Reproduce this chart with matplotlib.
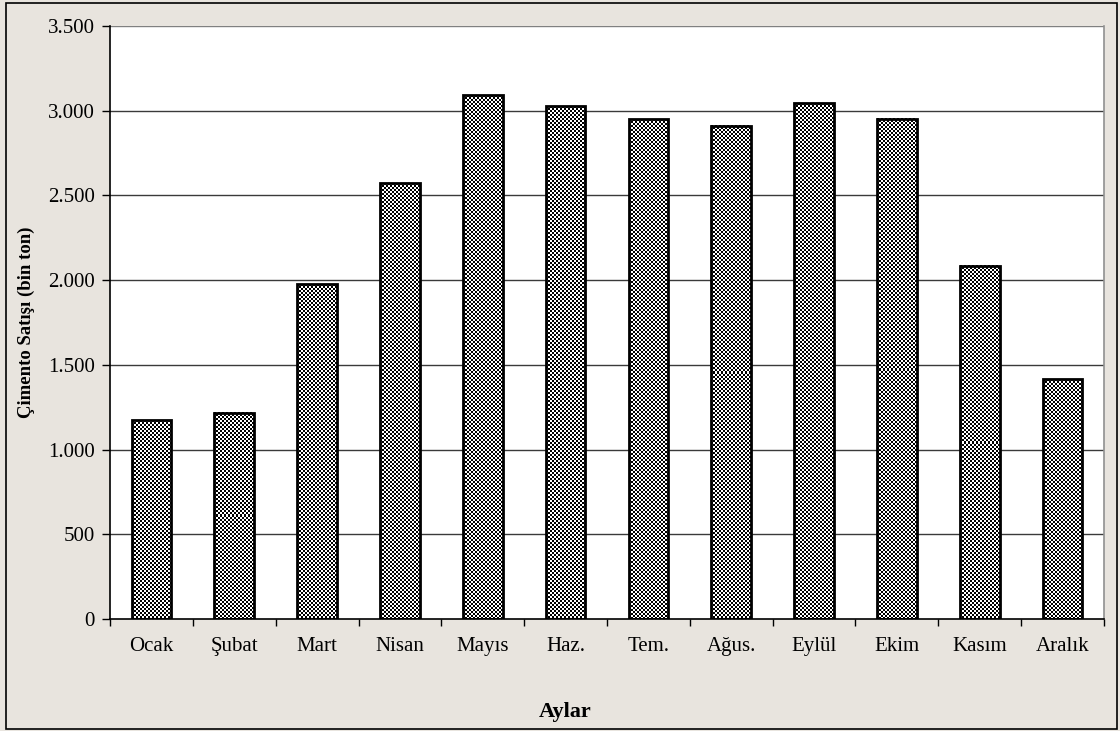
import numpy as np
import matplotlib
matplotlib.use('Agg')
import matplotlib.pyplot as plt
from matplotlib.patches import Rectangle
from matplotlib.ticker import FuncFormatter, FixedLocator

plt.rcParams['font.family'] = ['Liberation Serif', 'DejaVu Serif']

# monthly cement sales (thousand tons)
months = ['Ocak', 'Şubat', 'Mart', 'Nisan', 'Mayıs', 'Haz.', 'Tem.', 'Ağus.',
          'Eylül', 'Ekim', 'Kasım', 'Aralık']
sales = [1174, 1216, 1975, 2571, 3090, 3025, 2951, 2912, 3045, 2953, 2086, 1416]

y_ticks = [0, 500, 1000, 1500, 2000, 2500, 3000, 3500]

bg = '#E8E4DE'
fig = plt.figure(figsize=(11.2, 7.31), dpi=100, facecolor=bg)
ax = fig.add_axes([110/1120, 1 - 619/731, 994/1120, 593/731])
ax.set_facecolor('white')

x = np.arange(len(months))
bars = ax.bar(x, sales, width=0.48, facecolor='none', edgecolor='black',
              linewidth=2.0, zorder=3)

ax.set_xlim(-0.5, len(months) - 0.5)
ax.set_ylim(0, 3500)

# checkerboard fill, clipped to each bar
fig.canvas.draw()
for b in bars:
    x0, y0 = b.get_x(), b.get_y()
    w, h = b.get_width(), b.get_height()
    p0 = ax.transData.transform((x0, y0))
    p1 = ax.transData.transform((x0 + w, y0 + h))
    nx = max(int(round(p1[0] - p0[0])), 2)
    ny = max(int(round(p1[1] - p0[1])), 2)
    ii, jj = np.indices((ny, nx))
    board = ((ii // 2 + jj // 2) % 2).astype(float)
    ax.imshow(board, cmap='gray', vmin=0, vmax=1, interpolation='nearest',
              extent=(x0, x0 + w, y0, y0 + h), aspect='auto', zorder=2)
ax.set_xlim(-0.5, len(months) - 0.5)
ax.set_ylim(0, 3500)

# grid
for v in y_ticks[1:]:
    ax.axhline(v, color='#3a3a3a' if v < 3500 else '#808080', linewidth=1.0, zorder=1)

ax.yaxis.set_major_locator(FixedLocator(y_ticks))
ax.yaxis.set_major_formatter(FuncFormatter(lambda v, p: f'{int(v):,}'.replace(',', '.')))
ax.set_xticks(x)
ax.set_xticklabels(months)
ax.set_xticks(np.arange(len(months) + 1) - 0.5, minor=True)
ax.tick_params(axis='x', which='major', length=0, pad=13, labelsize=15)
ax.tick_params(axis='x', which='minor', length=5, width=1, color='black', direction='out')
ax.tick_params(axis='y', length=6, width=1, direction='out', pad=5, labelsize=15)

for s in ['left', 'bottom']:
    ax.spines[s].set_color('black')
    ax.spines[s].set_linewidth(1.2)
ax.spines['top'].set_visible(False)
ax.spines['right'].set_color('#909090')
ax.spines['right'].set_linewidth(1.2)

fig.text(26/1120, 1 - 322/731, 'Çimento Satışı (bin ton)', rotation=90,
         ha='center', va='center', fontsize=13.5, fontweight='bold')
fig.text(565/1120, 1 - 712/731, 'Aylar', ha='center', va='center',
         fontsize=16, fontweight='bold')

# outer frame
fig.patches.append(Rectangle((6/1120, 1 - 729/731), 1111/1120, 726/731,
                             transform=fig.transFigure, fill=False,
                             edgecolor='black', linewidth=1.2))

fig.savefig('out.png', dpi=100, facecolor=bg)
